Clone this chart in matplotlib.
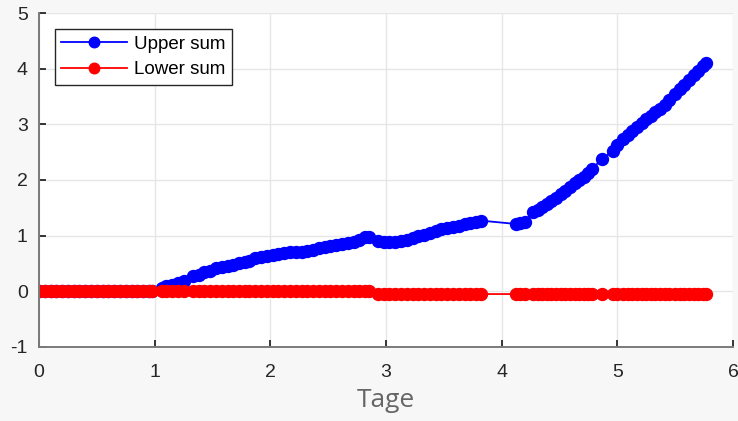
import matplotlib
matplotlib.use("Agg")
import matplotlib.pyplot as plt

plt.rcParams["axes.unicode_minus"] = False

# days (x) and the two sums
days = [0.00, 0.05, 0.10, 0.15, 0.20, 0.25, 0.30, 0.35, 0.40, 0.45, 0.50, 0.55,
        0.60, 0.65, 0.70, 0.75, 0.80, 0.85, 0.90, 0.95, 0.98,
        1.06, 1.10, 1.15, 1.20, 1.25,
        1.33, 1.38, 1.43, 1.48, 1.53, 1.58, 1.63, 1.68, 1.73, 1.78, 1.82,
        1.87, 1.92, 1.97, 2.02, 2.07, 2.12, 2.17, 2.22, 2.27, 2.32, 2.37,
        2.42, 2.47, 2.52, 2.57, 2.62, 2.67, 2.72, 2.77, 2.82, 2.85,
        2.93, 2.98, 3.03, 3.08, 3.13, 3.18, 3.23, 3.28, 3.33, 3.38, 3.43,
        3.48, 3.53, 3.58, 3.63, 3.68, 3.73, 3.78, 3.82,
        4.12, 4.16, 4.20,
        4.27, 4.31, 4.35, 4.39, 4.43, 4.47, 4.51, 4.55, 4.59, 4.63, 4.67,
        4.71, 4.75, 4.78, 4.87, 4.96, 5.00, 5.05, 5.09, 5.13, 5.17, 5.21,
        5.25, 5.29, 5.33, 5.37, 5.41, 5.45, 5.50, 5.54, 5.58, 5.62, 5.66,
        5.70, 5.74, 5.77]

upper = [0, 0, 0, 0, 0, 0, 0, 0, 0, 0, 0, 0,
         0, 0, 0, 0, 0, 0, 0, 0, 0,
         0.06, 0.09, 0.12, 0.15, 0.18,
         0.27, 0.30, 0.34, 0.37, 0.41, 0.44, 0.46, 0.48, 0.50, 0.52, 0.54,
         0.59, 0.61, 0.63, 0.65, 0.67, 0.69, 0.70, 0.70, 0.70, 0.73, 0.75,
         0.77, 0.79, 0.81, 0.83, 0.85, 0.87, 0.89, 0.93, 0.97, 0.98,
         0.90, 0.88, 0.88, 0.89, 0.91, 0.93, 0.96, 0.99, 1.02, 1.05, 1.08,
         1.11, 1.13, 1.16, 1.18, 1.21, 1.23, 1.25, 1.27,
         1.21, 1.22, 1.25,
         1.42, 1.46, 1.52, 1.57, 1.62, 1.68, 1.74, 1.80, 1.87, 1.94, 2.00,
         2.06, 2.13, 2.20, 2.38, 2.52, 2.63, 2.74, 2.80, 2.88, 2.96, 3.03,
         3.09, 3.15, 3.22, 3.28, 3.35, 3.43, 3.54, 3.63, 3.71, 3.80, 3.88,
         3.96, 4.04, 4.10]

# lower sum: ~0 up to day 2.85, then slightly below zero
lower = [0] * 58 + [-0.05] * 58

fig = plt.figure(figsize=(7.38, 4.21), dpi=100, facecolor="#f7f7f7")
ax = fig.add_axes([0.0528, 0.176, 0.9404, 0.793])

ax.plot(days, upper, "-o", color="#0000ff", lw=1.3, ms=8.6, label="Upper sum")
ax.plot(days, lower, "-o", color="#ff0000", lw=1.3, ms=8.6, label="Lower sum")

ax.set_xlim(0, 6)
ax.set_ylim(-1, 5)
ax.set_xticks(range(0, 7))
ax.set_yticks(range(-1, 6))
ax.grid(True, color="#e6e6e6", lw=1)
ax.set_axisbelow(True)

for s in ["top", "right"]:
    ax.spines[s].set_visible(False)
for s in ["left", "bottom"]:
    ax.spines[s].set_color("#7a7a7a")
    ax.spines[s].set_linewidth(1.4)

ax.tick_params(direction="in", length=5, width=1.3, color="#262626",
               labelsize=14, labelcolor="#262626")
ax.tick_params(axis="x", pad=12)
ax.tick_params(axis="y", pad=8)
for lab in ax.get_xticklabels() + ax.get_yticklabels():
    lab.set_family(["Liberation Sans", "DejaVu Sans"])

ax.set_xlabel("Tage", fontsize=19, color="#666666", family=["Open Sans", "DejaVu Sans"],
              labelpad=5)

leg = ax.legend(loc="upper left", bbox_to_anchor=(0.023, 0.952), borderaxespad=0,
                fancybox=False, framealpha=1, edgecolor="#262626",
                handlelength=3.5, handletextpad=0.35, borderpad=0.35,
                labelspacing=0.45, markerscale=0.88,
                prop={"family": ["Liberation Sans", "DejaVu Sans"], "size": 13.5})
leg.get_frame().set_linewidth(1.0)

fig.savefig("out.png", dpi=100, facecolor=fig.get_facecolor())
